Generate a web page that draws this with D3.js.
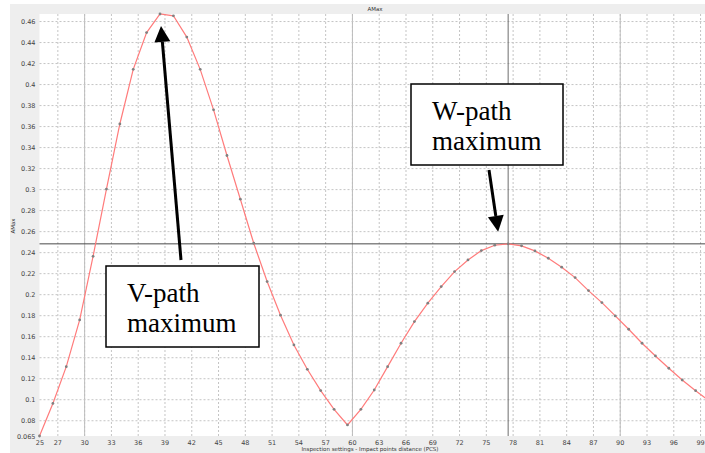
<!DOCTYPE html>
<html lang="en">
<head>
  <meta charset="UTF-8">
  <script src="https://d3js.org/d3.v7.min.js"></script>
  <style>
    body { margin: 0; background: #fff; }
    .tick text { font-family: "DejaVu Sans", sans-serif; font-size: 6.5px; fill: #444; }
    .box text { font-family: "Liberation Serif", "Times New Roman", serif; font-size: 27px; fill: #000; }
  </style>
  <title>AMax</title>
</head>
<body>
  <svg id="chart" width="705" height="453"></svg>
  <script>
    // impact points distance (PCS)
    var dist = [25, 26.5, 28, 29.5, 31, 32.5, 34, 35.5, 37, 38.5, 40, 41.5, 43, 44.5, 46, 47.5,
      49, 50.5, 52, 53.5, 55, 56.5, 58, 59.5, 61, 62.5, 64, 65.5, 67, 68.5, 70, 71.5, 73, 74.5,
      76, 77.5, 79, 80.5, 82, 83.5, 85, 86.5, 88, 89.5, 91, 92.5, 94, 95.5, 97, 98.5, 100];
    var amax = [0.065, 0.096, 0.131, 0.1755, 0.236, 0.300, 0.362, 0.414, 0.449, 0.4667, 0.465,
      0.4447, 0.414, 0.3755, 0.332, 0.2904, 0.2485, 0.212, 0.180, 0.1517, 0.1285, 0.1082, 0.0904,
      0.0755, 0.0904, 0.1088, 0.131, 0.1533, 0.1739, 0.1914, 0.2072, 0.2215, 0.2326, 0.2415,
      0.2466, 0.2479, 0.2460, 0.2412, 0.2342, 0.2257, 0.2158, 0.2034, 0.192, 0.1793, 0.1666,
      0.1533, 0.1412, 0.1295, 0.1183, 0.1081, 0.0985];
    var xTicks = [25, 27, 30, 33, 36, 39, 42, 45, 48, 51, 54, 57, 60, 63, 66, 69, 72, 75, 78,
      81, 84, 87, 90, 93, 96, 99];
    var xMajor = [30, 60, 90];
    var yTicks = [0.065, 0.08, 0.1, 0.12, 0.14, 0.16, 0.18, 0.2, 0.22, 0.24, 0.26, 0.28, 0.3,
      0.32, 0.34, 0.36, 0.38, 0.4, 0.42, 0.44, 0.46];
    var wPeak = [77.5, 0.2479];
    var vPeak = [38.5, 0.4667];

    var svg = d3.select('#chart');
    var L = 39.5, R = 709, T = 14, B = 436;
    var x = d3.scaleLinear().domain([25, 100]).range([L, R]);
    var y = d3.scaleLinear().domain([0.065, 0.4667]).range([B, T]);

    // frame
    svg.append('rect').attr('x', 10).attr('y', 4).attr('width', 695).attr('height', 449).attr('fill', '#eeeeee');
    svg.append('rect').attr('x', L).attr('y', T).attr('width', 705 - L).attr('height', B - T).attr('fill', '#fff');

    // grid
    svg.append('g').attr('transform', 'translate(0,' + B + ')')
      .call(d3.axisBottom(x).tickValues(xTicks.filter(d => d > 25)).tickSize(-(B - T)).tickFormat(''))
      .call(g => g.select('.domain').remove())
      .selectAll('line').attr('stroke', '#c4c4c4').attr('stroke-dasharray', '2,2');
    svg.append('g').attr('transform', 'translate(0,' + B + ')')
      .call(d3.axisBottom(x).tickValues(xMajor).tickSize(-(B - T)).tickFormat(''))
      .call(g => g.select('.domain').remove())
      .selectAll('line').attr('stroke', '#bdbdbd');
    svg.append('g').attr('transform', 'translate(' + L + ',0)')
      .call(d3.axisLeft(y).tickValues(yTicks.filter(d => d > 0.065)).tickSize(-(705 - L)).tickFormat(''))
      .call(g => g.select('.domain').remove())
      .selectAll('line').attr('stroke', '#c4c4c4').attr('stroke-dasharray', '2,2');

    // axes labels
    svg.append('g').attr('transform', 'translate(0,' + B + ')')
      .call(d3.axisBottom(x).tickValues(xTicks).tickSize(0).tickPadding(4).tickFormat(d3.format('d')))
      .call(g => g.select('.domain').remove());
    svg.append('g').attr('transform', 'translate(' + L + ',0)')
      .call(d3.axisLeft(y).tickValues(yTicks).tickSize(0).tickPadding(4).tickFormat(d => String(+d.toFixed(3))))
      .call(g => g.select('.domain').remove());

    svg.append('text').attr('x', 375).attr('y', 11).attr('text-anchor', 'middle')
      .attr('font-family', 'DejaVu Sans').attr('font-size', 5.5).attr('fill', '#333').text('AMax');
    svg.append('text').attr('transform', 'translate(15,226) rotate(-90)').attr('text-anchor', 'middle')
      .attr('font-family', 'DejaVu Sans').attr('font-size', 5.5).attr('fill', '#333').text('AMax');
    svg.append('text').attr('x', 370).attr('y', 451).attr('text-anchor', 'middle')
      .attr('font-family', 'DejaVu Sans').attr('font-size', 5.5).attr('fill', '#333')
      .text('Inspection settings - Impact points distance (PCS)');

    // crosshair at W-path maximum
    svg.append('line').attr('x1', L).attr('x2', 705).attr('y1', y(wPeak[1])).attr('y2', y(wPeak[1]))
      .attr('stroke', '#4a4a4a').attr('stroke-width', 1);
    svg.append('line').attr('x1', x(wPeak[0])).attr('x2', x(wPeak[0])).attr('y1', T).attr('y2', B)
      .attr('stroke', '#6e6e6e').attr('stroke-width', 1);

    // series
    var pts = dist.map((d, i) => [d, amax[i]]);
    svg.append('path').datum(pts)
      .attr('d', d3.line().x(d => x(d[0])).y(d => y(d[1])))
      .attr('fill', 'none').attr('stroke', '#ff7b7b').attr('stroke-width', 1.2);
    svg.selectAll('circle.pt').data(pts).enter().append('circle').attr('class', 'pt')
      .attr('cx', d => x(d[0])).attr('cy', d => y(d[1])).attr('r', 1.4).attr('fill', '#808080');

    // annotations
    function arrow(x1, y1, x2, y2) {
      var a = Math.atan2(y2 - y1, x2 - x1), hl = 16, hw = 8;
      var bx = x2 - hl * Math.cos(a), by = y2 - hl * Math.sin(a);
      svg.append('line').attr('x1', x1).attr('y1', y1).attr('x2', bx).attr('y2', by)
        .attr('stroke', '#000').attr('stroke-width', 3);
      svg.append('path').attr('fill', '#000').attr('d', 'M' + x2 + ',' + y2 +
        'L' + (bx + hw * Math.sin(a)) + ',' + (by - hw * Math.cos(a)) +
        'L' + (bx - hw * Math.sin(a)) + ',' + (by + hw * Math.cos(a)) + 'Z');
    }
    function box(bx, by, w, h, lines) {
      var g = svg.append('g').attr('class', 'box');
      g.append('rect').attr('x', bx).attr('y', by).attr('width', w).attr('height', h)
        .attr('fill', '#fff').attr('stroke', '#000').attr('stroke-width', 1.5);
      lines.forEach((t, i) => g.append('text').attr('x', bx + 21).attr('y', by + 36 + i * 30).text(t));
    }
    arrow(181, 260, x(vPeak[0]) + 1, y(vPeak[1]) + 12);
    arrow(489, 170, x(wPeak[0]) - 10, y(wPeak[1]) - 12);
    box(106, 266, 153, 81, ['V-path', 'maximum']);
    box(411, 84, 152, 81, ['W-path', 'maximum']);
  </script>
</body>
</html>
